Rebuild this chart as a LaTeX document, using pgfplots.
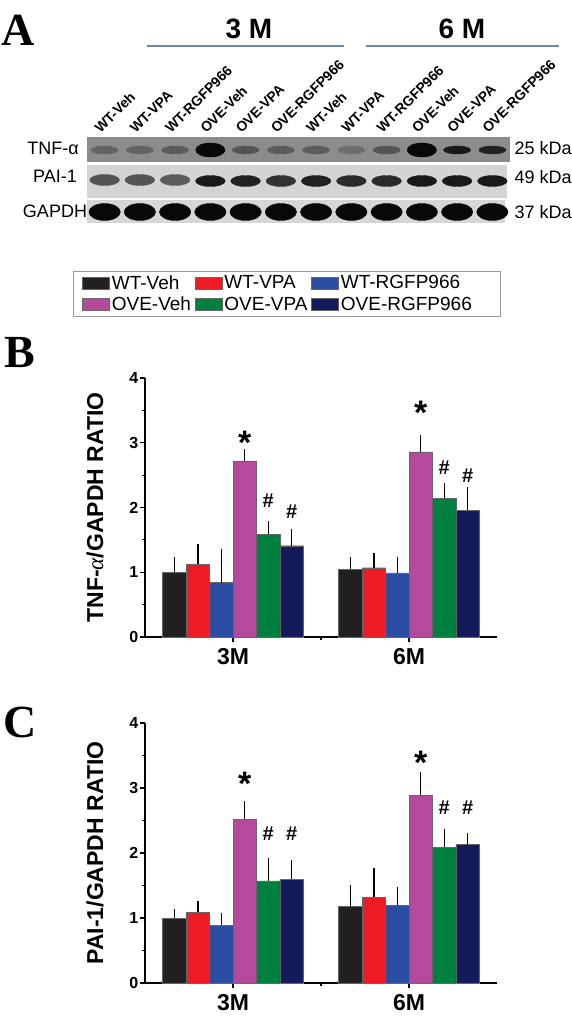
\documentclass[border=0pt]{standalone}
\usepackage{fontspec}
\setmainfont{Liberation Sans}
\newfontfamily\serif{Liberation Serif}
\usepackage{pgfplots}
\usepackage{pgfplotstable}
\pgfplotsset{compat=1.18}

\definecolor{cA}{HTML}{231F20}
\definecolor{cB}{HTML}{ED1C24}
\definecolor{cC}{HTML}{2B4EA2}
\definecolor{cD}{HTML}{B5499C}
\definecolor{cE}{HTML}{00803E}
\definecolor{cF}{HTML}{131B5C}
\definecolor{lineblue}{HTML}{6F88A8}

% panel B: TNF-alpha / GAPDH
\pgfplotstableread{
x a ea b eb c ec d ed e ee f ef
0 1.00 0.20 1.12 0.28 0.84 0.48 2.72 0.14 1.59 0.16 1.41 0.22
1 1.05 0.14 1.07 0.18 0.99 0.21 2.86 0.22 2.14 0.20 1.96 0.31
}\tabB
% panel C: PAI-1 / GAPDH
\pgfplotstableread{
x a ea b eb c ec d ed e ee f ef
0 1.00 0.10 1.09 0.13 0.89 0.15 2.52 0.24 1.57 0.31 1.60 0.25
1 1.18 0.28 1.32 0.41 1.20 0.24 2.89 0.31 2.09 0.23 2.13 0.13
}\tabC
% blot: lane, row height, band darkness (0 = black)
\pgfplotstableread{
lane ty tv py pv gy gv
1  73 0.55 43 0.45 11 0
2  73 0.55 43 0.45 11 0
3  73 0.50 43 0.50 11 0
4  73 0.00 42 0.10 11 0
5  73 0.45 42 0.15 11 0
6  73 0.50 42 0.25 11 0
7  73 0.50 42 0.15 11 0
8  73 0.60 42 0.20 11 0
9  73 0.45 42 0.20 11 0
10 73 0.00 42 0.10 11 0
11 73 0.10 42 0.10 11 0
12 73 0.15 42 0.10 11 0
}\blot
\pgfplotstableread{
lane ty tv
4  73 0.0
10 73 0.0
}\blotstrong

\pgfplotsset{
  panel/.style={
    scale only axis, width=352pt, height=259pt,
    anchor=south west,
    xmin=-0.5, xmax=1.5, ymin=0, ymax=4,
    axis x line*=bottom, axis y line*=left,
    axis line style={line width=1.2pt, black},
    xtick={0,1}, xticklabels={3M,6M}, minor xtick={0.5},
    ytick={0,1,2,3,4}, minor ytick={0.5,1.5,2.5,3.5},
    tick align=outside, major tick length=5pt, minor tick length=3pt,
    every tick/.style={black, line width=1.2pt},
    /pgf/number format/assume math mode=true,
    yticklabel style={font=\fontsize{16}{16}\selectfont\bfseries, inner sep=1.5pt},
    xticklabel style={font=\fontsize{23}{23}\selectfont\bfseries, yshift=-3pt},
    every axis y label/.style={at={(rel axis cs:0,0.5)}, xshift=-50pt, rotate=90, anchor=center,
      font=\fontsize{23}{23}\selectfont\bfseries},
    clip=false,
    ybar, bar width=0.1333,
    error bars/y dir=plus, error bars/y explicit,
    error bars/error bar style={line width=1.4pt, black},
    error bars/error mark options={line width=1.4pt, black, mark size=2.8pt},
  },
  bars/.style={draw=black!60, line width=0.4pt},
}
\tikzset{
  starlbl/.style={anchor=north, inner sep=0pt, font=\fontsize{34}{34}\selectfont\bfseries},
  hashlbl/.style={anchor=base, inner sep=0pt, font=\fontsize{20}{20}\selectfont\bfseries},
}

\begin{document}
\begin{tikzpicture}[x=1pt,y=1pt]
\path[use as bounding box] (0,0) rectangle (572,-1020);

% ---------------- Panel A: blot ----------------
\begin{axis}[
  at={(87pt,-223pt)}, anchor=south west,
  scale only axis, width=423pt, height=86pt,
  xmin=0.5, xmax=12.5, ymin=0, ymax=86,
  axis lines=none, clip=false,
  colormap={blot}{rgb255=(8,8,8) rgb255=(175,175,175)},
  point meta min=0, point meta max=1,
]
\addplot[fill=black!45, draw=none] coordinates {(0.5,61) (12.5,61) (12.5,86) (0.5,86)} -- cycle;
\addplot[fill=black!17, draw=none] coordinates {(0.5,25) (12.42,25) (12.42,58) (0.5,58)} -- cycle;
\addplot[fill=black!16, draw=none] coordinates {(0.5,0) (12.36,0) (12.36,23) (0.5,23)} -- cycle;
\addplot[scatter, only marks, scatter src=explicit, mark=*, mark size=4pt,
  mark options={xscale=3.4},
  scatter/use mapped color={draw=mapped color, fill=mapped color}]
  table[x=lane, y=ty, meta=tv] {\blot};
\addplot[scatter, only marks, scatter src=explicit, mark=*, mark size=7pt,
  mark options={xscale=2.1},
  scatter/use mapped color={draw=mapped color, fill=mapped color}]
  table[x=lane, y=ty, meta=tv] {\blotstrong};
\addplot[scatter, only marks, scatter src=explicit, mark=*, mark size=5.5pt,
  mark options={xscale=2.7},
  scatter/use mapped color={draw=mapped color, fill=mapped color}]
  table[x=lane, y=py, meta=pv] {\blot};
\addplot[scatter, only marks, scatter src=explicit, mark=*, mark size=8.5pt,
  mark options={xscale=1.85},
  scatter/use mapped color={draw=mapped color, fill=mapped color}]
  table[x=lane, y=gy, meta=gv] {\blot};
\foreach \i/\t in {1/WT-Veh,2/WT-VPA,3/WT-RGFP966,4/OVE-Veh,5/OVE-VPA,6/OVE-RGFP966,
                   7/WT-Veh,8/WT-VPA,9/WT-RGFP966,10/OVE-Veh,11/OVE-VPA,12/OVE-RGFP966}{
  \edef\temp{\noexpand\node[rotate=45, anchor=base west, inner sep=0pt,
    font=\noexpand\fontsize{14}{14}\noexpand\selectfont\noexpand\bfseries]
    at (axis cs:\i-0.12,89) {\t};}
  \temp
}
\end{axis}

% blot labels
\node[font=\fontsize{18}{18}\selectfont] at (53,-148) {TNF-α};
\node[font=\fontsize{18}{18}\selectfont] at (55,-176) {PAI-1};
\node[font=\fontsize{18}{18}\selectfont] at (55,-211) {GAPDH};
\node[font=\fontsize{18}{18}\selectfont, anchor=west] at (511,-148) {25 kDa};
\node[font=\fontsize{18}{18}\selectfont, anchor=west] at (511,-177) {49 kDa};
\node[font=\fontsize{18}{18}\selectfont, anchor=west] at (511,-212) {37 kDa};
\node[font=\fontsize{28}{28}\selectfont\bfseries, anchor=base] at (249,-38) {3 M};
\node[font=\fontsize{28}{28}\selectfont\bfseries, anchor=base] at (462,-38) {6 M};
\draw[lineblue, line width=1.8pt] (147,-46) -- (344,-46);
\draw[lineblue, line width=1.8pt] (366,-46) -- (559,-46);

% panel letters
\node[font=\serif\bfseries\fontsize{46}{46}\selectfont, anchor=base west, inner sep=0pt] at (1,-45) {A};
\node[font=\serif\bfseries\fontsize{46}{46}\selectfont, anchor=base west, inner sep=0pt] at (4,-367) {B};
\node[font=\serif\bfseries\fontsize{46}{46}\selectfont, anchor=base west, inner sep=0pt] at (3,-737) {C};

% ---------------- Panel B ----------------
\begin{axis}[panel, at={(145pt,-637pt)},
  ylabel={TNF-{\serif\mdseries\itshape α}/GAPDH RATIO},
  legend columns=3,
  legend style={at={(rel axis cs:-0.2045,1.413)}, anchor=north west, draw=black!40, line width=0.8pt,
    font=\fontsize{19}{19}\selectfont, inner xsep=9pt, inner ysep=2pt, row sep=2pt,
    /tikz/every even column/.append style={column sep=2pt},
    legend cell align=left},
  legend image code/.code={\fill[#1] (0pt,-6pt) rectangle (27pt,6pt);},
]
\addplot[bars, fill=cA, bar shift=-0.3333] table[x=x, y=a, y error=ea] {\tabB};
\addplot[bars, fill=cB, bar shift=-0.2]    table[x=x, y=b, y error=eb] {\tabB};
\addplot[bars, fill=cC, bar shift=-0.0667] table[x=x, y=c, y error=ec] {\tabB};
\addplot[bars, fill=cD, bar shift=0.0667]  table[x=x, y=d, y error=ed] {\tabB};
\addplot[bars, fill=cE, bar shift=0.2]     table[x=x, y=e, y error=ee] {\tabB};
\addplot[bars, fill=cF, bar shift=0.3333]  table[x=x, y=f, y error=ef] {\tabB};
\legend{WT-Veh,WT-VPA,WT-RGFP966\hspace*{18pt},OVE-Veh,OVE-VPA,OVE-RGFP966\hspace*{18pt}}
\node[starlbl] at (axis cs:0.0667,3.19) {*};
\node[starlbl] at (axis cs:1.0667,3.65) {*};
\node[hashlbl] at (axis cs:0.2,2.00) {\#};
\node[hashlbl] at (axis cs:0.3333,1.83) {\#};
\node[hashlbl] at (axis cs:1.2,2.51) {\#};
\node[hashlbl] at (axis cs:1.3333,2.39) {\#};
\end{axis}

% ---------------- Panel C ----------------
\begin{axis}[panel, at={(145pt,-983pt)}, height=260pt,
  ylabel={PAI-1/GAPDH RATIO},
]
\addplot[bars, fill=cA, bar shift=-0.3333] table[x=x, y=a, y error=ea] {\tabC};
\addplot[bars, fill=cB, bar shift=-0.2]    table[x=x, y=b, y error=eb] {\tabC};
\addplot[bars, fill=cC, bar shift=-0.0667] table[x=x, y=c, y error=ec] {\tabC};
\addplot[bars, fill=cD, bar shift=0.0667]  table[x=x, y=d, y error=ed] {\tabC};
\addplot[bars, fill=cE, bar shift=0.2]     table[x=x, y=e, y error=ee] {\tabC};
\addplot[bars, fill=cF, bar shift=0.3333]  table[x=x, y=f, y error=ef] {\tabC};
\node[starlbl] at (axis cs:0.0667,3.25) {*};
\node[starlbl] at (axis cs:1.0667,3.57) {*};
\node[hashlbl] at (axis cs:0.2,2.19) {\#};
\node[hashlbl] at (axis cs:0.3333,2.19) {\#};
\node[hashlbl] at (axis cs:1.2,2.59) {\#};
\node[hashlbl] at (axis cs:1.3333,2.59) {\#};
\end{axis}
\end{tikzpicture}
\end{document}
